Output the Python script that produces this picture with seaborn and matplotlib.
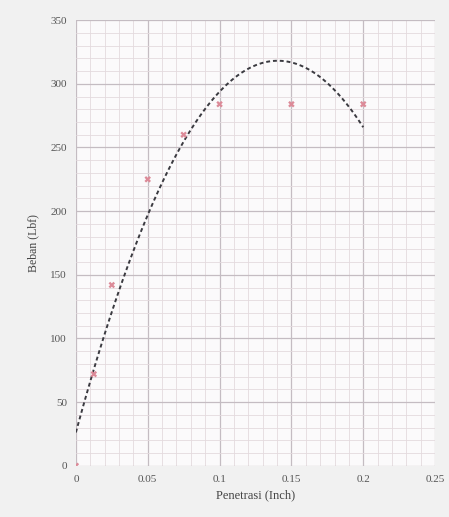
import numpy as np
import pandas as pd
import matplotlib.pyplot as plt
from matplotlib.ticker import MultipleLocator
import seaborn as sns

# data
penetrasi = [0, 0.0125, 0.025, 0.05, 0.075, 0.1, 0.15, 0.2]
beban = [0, 72, 142, 225, 260, 284, 284, 284]
x_ticks = [0, 0.05, 0.1, 0.15, 0.2, 0.25]
x_labels = ['0', '0.05', '0.1', '0.15', '0.2', '0.25']
y_ticks = [0, 50, 100, 150, 200, 250, 300, 350]

df = pd.DataFrame({'Penetrasi': penetrasi, 'Beban': beban})

sns.set_style('white')
plt.rcParams['font.family'] = ['Liberation Serif', 'DejaVu Serif']

fig = plt.figure(figsize=(4.49, 5.17), dpi=100, facecolor='#f1f1f1')
ax = fig.add_axes([0.169, 0.099, 0.80, 0.862])
ax.set_facecolor('#fbfafb')

# polynomial trendline (order 2)
sns.regplot(data=df, x='Penetrasi', y='Beban', order=2, ci=None, scatter=False,
            line_kws=dict(color='#3a3a40', lw=1.4, ls=(0, (2, 1.5))), ax=ax)
sns.scatterplot(data=df, x='Penetrasi', y='Beban', marker='X', s=22,
                color='#dc8a98', edgecolor='none', ax=ax, zorder=5)

ax.set_xlim(0, 0.25)
ax.set_ylim(0, 350)
ax.set_xticks(x_ticks)
ax.set_xticklabels(x_labels)
ax.set_yticks(y_ticks)
ax.xaxis.set_minor_locator(MultipleLocator(0.01))
ax.yaxis.set_minor_locator(MultipleLocator(10))
ax.grid(which='major', color='#c4bcc2', lw=0.9)
ax.grid(which='minor', color='#e4dade', lw=0.6)
ax.set_axisbelow(True)
for s in ax.spines.values():
    s.set_visible(False)
ax.tick_params(axis='both', which='major', labelsize=8, colors='#555555', length=3)
ax.tick_params(axis='both', which='minor', length=0)

ax.set_xlabel('Penetrasi (Inch)', fontsize=9, color='#444444', labelpad=4)
ax.set_ylabel('Beban (Lbf)', fontsize=8.5, color='#444444', labelpad=8)

fig.savefig('out.png', dpi=100, facecolor=fig.get_facecolor())
